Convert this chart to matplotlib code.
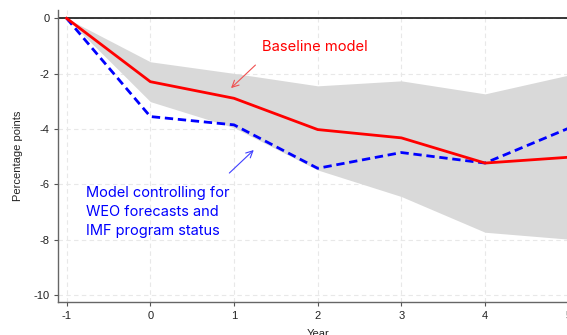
import matplotlib
matplotlib.use("Agg")
import matplotlib.pyplot as plt

plt.rcParams["axes.unicode_minus"] = False
plt.rcParams["font.family"] = ["Liberation Sans", "DejaVu Sans"]

years = [-1, 0, 1, 2, 3, 4, 5]
baseline = [0.0, -2.29, -2.89, -4.02, -4.32, -5.23, -5.02]
controlled = [0.0, -3.55, -3.85, -5.42, -4.85, -5.23, -3.97]
ci_upper = [0.0, -1.57, -1.99, -2.44, -2.26, -2.73, -2.05]
ci_lower = [0.0, -3.01, -3.95, -5.48, -6.44, -7.73, -7.98]

y_ticks = [0, -2, -4, -6, -8, -10]

RED = "#ff0000"
BLUE = "#0000ff"
NOTE_FONT = ["Inter", "DejaVu Sans"]

fig = plt.figure(figsize=(5.67, 3.35), dpi=100)
ax = fig.add_axes([0.1028, 0.0994, 0.915, 0.8707])

ax.fill_between(years, ci_lower, ci_upper, color="#d9d9d9", lw=0, zorder=1)
ax.axhline(0, color="black", lw=1.1, zorder=2)
ax.plot(years, baseline, color=RED, lw=2.0, zorder=4)
ax.plot(years, controlled, color=BLUE, lw=2.0, ls=(0, (3.0, 1.7)), zorder=3)

ax.set_xlim(-1.10, 5.10)
ax.set_ylim(-10.24, 0.30)
ax.set_xticks(years)
ax.set_yticks(y_ticks)
ax.tick_params(colors="#555555", labelcolor="#222222", labelsize=8,
               length=3, width=0.8)
ax.grid(True, ls=(0, (4, 3)), color="#e8e8e8", lw=0.8, zorder=0)
ax.set_axisbelow(True)
for side in ("top", "right"):
    ax.spines[side].set_visible(False)
for side in ("left", "bottom"):
    ax.spines[side].set_color("#666666")
    ax.spines[side].set_linewidth(1.0)

ax.set_ylabel("Percentage points", fontsize=8, color="#222222", labelpad=7)
ax.set_xlabel("Year", fontsize=8, color="#222222", labelpad=6)

ax.text(1.33, -1.04, "Baseline model", color=RED, fontsize=10.6,
        family=NOTE_FONT, va="center", ha="left")
ax.annotate("", xy=(0.94, -2.59), xytext=(1.28, -1.62),
            arrowprops=dict(arrowstyle="->", color="#f05050", lw=0.8,
                            mutation_scale=12))
ax.text(-0.766, -6.99,
        "Model controlling for\nWEO forecasts and\nIMF program status",
        color=BLUE, fontsize=10.5, family=NOTE_FONT, va="center", ha="left",
        linespacing=1.45)
ax.annotate("", xy=(1.26, -4.69), xytext=(0.92, -5.66),
            arrowprops=dict(arrowstyle="->", color="#4040ff", lw=0.8,
                            mutation_scale=12))

fig.savefig("out.png", dpi=100)
